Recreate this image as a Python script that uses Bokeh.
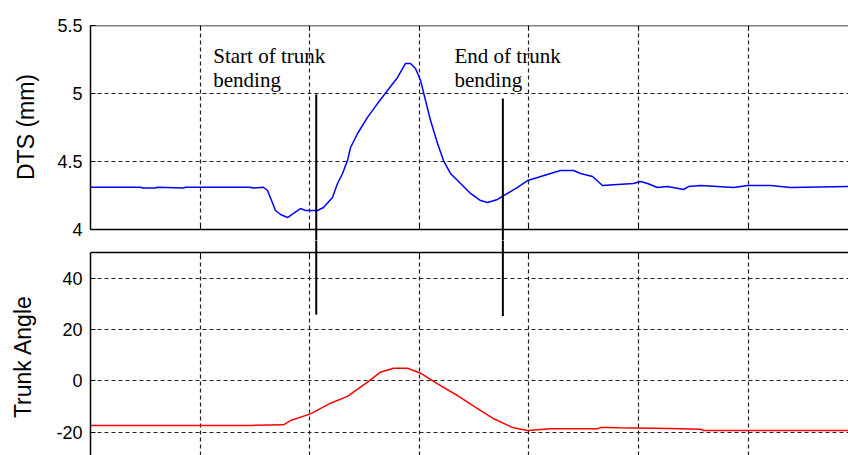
import math
from bokeh.plotting import figure
from bokeh.models import Range1d, FixedTicker, LinearAxis, Label, BoxAnnotation
from bokeh.core.properties import value
from bokeh.layouts import column, row
from bokeh.embed import file_html
from bokeh.resources import INLINE

# ---------------- data ----------------
dts_t = [0.000, 0.456, 0.475, 0.593, 0.611, 0.849, 0.867, 1.460, 1.478, 1.579,
         1.615, 1.652, 1.688, 1.734, 1.798, 1.853, 1.916, 1.962, 2.072, 2.126,
         2.208, 2.254, 2.300, 2.345, 2.373, 2.437, 2.528, 2.619, 2.710, 2.802,
         2.875, 2.920, 2.966, 3.012, 3.039, 3.103, 3.167, 3.221, 3.285, 3.377,
         3.468, 3.559, 3.623, 3.714, 3.805, 3.897, 3.988, 4.079, 4.198, 4.289,
         4.408, 4.472, 4.581, 4.672, 4.809, 4.955, 5.019, 5.083, 5.174, 5.266,
         5.412, 5.457, 5.567, 5.868, 5.996, 6.205, 6.388, 6.917]
dts_mm = [4.311, 4.311, 4.305, 4.305, 4.311, 4.305, 4.311, 4.311, 4.305, 4.311,
          4.287, 4.213, 4.140, 4.110, 4.088, 4.118, 4.154, 4.140, 4.140, 4.162,
          4.235, 4.338, 4.412, 4.507, 4.603, 4.706, 4.824, 4.926, 5.022, 5.118,
          5.221, 5.221, 5.184, 5.096, 5.007, 4.801, 4.632, 4.507, 4.412, 4.338,
          4.265, 4.213, 4.199, 4.221, 4.265, 4.309, 4.360, 4.382, 4.412, 4.434,
          4.434, 4.412, 4.390, 4.324, 4.331, 4.338, 4.353, 4.338, 4.309, 4.316,
          4.294, 4.316, 4.324, 4.309, 4.324, 4.324, 4.309, 4.316]

angle_t = [0.000, 1.460, 1.761, 1.825, 2.008, 2.190, 2.345, 2.528, 2.646, 2.765,
           2.893, 3.012, 3.167, 3.349, 3.532, 3.678, 3.860, 3.988, 4.079, 4.198,
           4.627, 4.654, 4.691, 4.818, 5.293, 5.567, 5.594, 6.917]
angle_deg = [-17.4, -17.4, -17.2, -15.5, -12.9, -8.75, -6.1, -0.55, 3.35, 4.9,
             4.9, 2.95, -1.2, -5.75, -10.9, -14.8, -18.35, -19.4, -19.1, -18.75,
             -18.75, -18.2, -18.2, -18.35, -18.6, -18.9, -19.4, -19.4]

x_ticks = [0, 1, 2, 3, 4, 5, 6]
dts_ticks = [4, 4.5, 5, 5.5]
dts_tick_labels = ["4", "4.5", "5", "5.5"]
angle_ticks = [-20, 0, 20, 40]
angle_tick_labels = ["-20", "0", "20", "40"]
y_titles = ["DTS (mm)", "Trunk Angle"]

event_t = [2.060, 3.763]
event_dts_top = [4.993, 4.963]
event_angle_bottom = [25.8, 25.2]
event_label_t = [1.120, 3.322]
event_label_line1 = ["Start of trunk", "End of trunk"]
event_label_line2 = ["bending", "bending"]
label_dts_line1 = 5.279
label_dts_line2 = 5.096

x_start, x_end = 0, 6.917
dts_lo, dts_hi = 4, 5.5
ang_lo, ang_hi = -29.14, 50

# ---------------- layout geometry (pixels) ----------------
W, H = 848, 455
TITLE_W = 50          # strip on the left holding the rotated axis titles
TOP_H = 240           # the white gap between panels is split between figures
BOT_H = H - TOP_H
PX_PER_DTS = 136.0
PX_PER_DEG = 2.565
top_gap_px = TOP_H - 229
bot_gap_px = 252 - TOP_H
dts_frame_lo = dts_lo - top_gap_px / PX_PER_DTS
ang_frame_hi = ang_hi + bot_gap_px / PX_PER_DEG
title_x = [25, 22]              # anchor position of the rotated titles
title_y = [H - 126.5, H - 356]  # vertical centres (measured from the bottom)

GRID = "#222222"
SANS = "Liberation Sans"
SERIF = "Liberation Serif"

x_range = Range1d(x_start, x_end)


def style_common(p, yticks, ylabels, ybounds):
    p.outline_line_color = None
    p.background_fill_color = "white"
    p.border_fill_color = "white"
    p.yaxis.bounds = ybounds
    p.yaxis.ticker = FixedTicker(ticks=yticks)
    p.yaxis.major_label_overrides = {k: v for k, v in zip(yticks, ylabels)}
    p.yaxis.major_tick_in = 5
    p.yaxis.major_tick_out = 0
    p.yaxis.minor_tick_in = 0
    p.yaxis.minor_tick_out = 0
    p.yaxis.axis_line_width = 1.5
    p.yaxis.axis_line_color = "black"
    p.yaxis.major_tick_line_color = "black"
    p.yaxis.major_label_standoff = 8
    p.yaxis.major_label_text_font = SANS
    p.yaxis.major_label_text_font_size = "18px"
    p.yaxis.major_label_text_color = "black"
    p.xgrid.ticker = FixedTicker(ticks=x_ticks)
    for g in (p.xgrid, p.ygrid):
        g.grid_line_color = GRID
        g.grid_line_dash = "4 3"
        g.grid_line_width = 1.2
        g.level = "image"


def tick_axis(loc):
    return LinearAxis(fixed_location=loc, ticker=FixedTicker(ticks=x_ticks),
                      major_tick_in=5, major_tick_out=0, minor_tick_in=0,
                      minor_tick_out=0, major_label_text_color=None,
                      axis_line_width=1.5, axis_line_color="black",
                      major_tick_line_color="black")


common = dict(output_backend="svg", toolbar_location=None, x_axis_location=None,
              min_border_left=90 - TITLE_W, min_border_right=0)

# ---------------- top panel: DTS ----------------
p1 = figure(width=W - TITLE_W, height=TOP_H, x_range=x_range,
            y_range=Range1d(dts_frame_lo, dts_hi),
            min_border_top=25, min_border_bottom=0, **common)
style_common(p1, dts_ticks, dts_tick_labels, (dts_lo, dts_hi))
p1.add_layout(BoxAnnotation(top=dts_lo, fill_color="white", fill_alpha=1,
                            line_color=None, level="underlay"))
p1.add_layout(tick_axis(dts_lo), "below")
p1.add_layout(tick_axis(dts_hi), "above")
p1.line(dts_t, dts_mm, line_color="#0000ff", line_width=1.5)
p1.segment(x0=event_t, y0=event_dts_top, x1=event_t,
           y1=[dts_frame_lo - 0.1] * len(event_t), line_width=2, line_color="black")
for t, l1, l2 in zip(event_label_t, event_label_line1, event_label_line2):
    for txt, yy in ((l1, label_dts_line1), (l2, label_dts_line2)):
        p1.add_layout(Label(x=t, y=yy, text=txt, text_font=SERIF,
                            text_font_size="21px", text_color="black",
                            text_baseline="alphabetic"))

# ---------------- bottom panel: Trunk Angle ----------------
p2 = figure(width=W - TITLE_W, height=BOT_H, x_range=x_range,
            y_range=Range1d(ang_lo, ang_frame_hi),
            min_border_top=0, min_border_bottom=0, **common)
style_common(p2, angle_ticks, angle_tick_labels, (ang_lo, ang_hi))
p2.add_layout(BoxAnnotation(bottom=ang_hi, fill_color="white", fill_alpha=1,
                            line_color=None, level="underlay"))
p2.add_layout(tick_axis(ang_hi), "above")
p2.line(angle_t, angle_deg, line_color="#ff0000", line_width=1.5)
p2.segment(x0=event_t, y0=[ang_frame_hi + 3] * len(event_t), x1=event_t,
           y1=event_angle_bottom, line_width=2, line_color="black")

# ---------------- strip with the rotated y-axis titles ----------------
pt = figure(width=TITLE_W, height=H, x_range=Range1d(0, TITLE_W),
            y_range=Range1d(0, H), output_backend="svg", toolbar_location=None,
            x_axis_location=None, y_axis_location=None,
            min_border_left=0, min_border_right=0, min_border_top=0,
            min_border_bottom=0)
pt.grid.visible = False
pt.outline_line_color = None
pt.background_fill_color = "white"
pt.border_fill_color = "white"
pt.text(x=title_x, y=title_y, text=y_titles, angle=math.pi / 2,
        text_font=value(SANS), text_font_size="23px", text_color="black",
        text_align="center", text_baseline="alphabetic")

layout = row(pt, column(p1, p2, spacing=0), spacing=0)
open("out.html", "w").write(file_html(layout, INLINE))
